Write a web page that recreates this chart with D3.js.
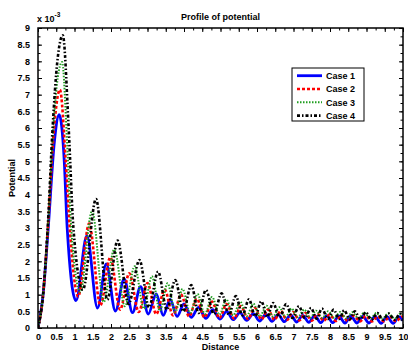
<!DOCTYPE html>
<html>
<head>
<meta charset="utf-8">
<script src="https://cdn.jsdelivr.net/npm/d3@7/dist/d3.min.js"></script>
<style>
  html, body { margin: 0; padding: 0; background: #fff; }
  svg { display: block; }
  text { font-family: "Liberation Sans", Arial, sans-serif; font-weight: bold; fill: #000; }
</style>
</head>
<body>
<svg id="chart" width="408" height="352"></svg>
<script>
// Potential (x 1e-3) against distance, four cases
const seriesNames = ["Case 1", "Case 2", "Case 3", "Case 4"];

const case1 = [[0,0],[0.14,1.0],[0.28,3.0],[0.45,5.6],[0.58,6.4],[0.72,5.0],[0.8,3.0],[1.04,0.82],[1.34,2.77],[1.63,0.6],[1.87,1.92],[2.12,0.51],[2.36,1.47],[2.59,0.46],[2.81,1.24],[3.02,0.42],[3.24,1.02],[3.43,0.38],[3.62,0.86],[3.81,0.35],[4.0,0.72],[4.2,0.32],[4.4,0.62],[4.6,0.29],[4.79,0.55],[4.98,0.27],[5.17,0.5],[5.35,0.25],[5.53,0.46],[5.72,0.23],[5.9,0.43],[6.07,0.21],[6.24,0.41],[6.41,0.2],[6.58,0.4],[6.75,0.19],[6.92,0.39],[7.09,0.18],[7.25,0.38],[7.42,0.17],[7.58,0.37],[7.75,0.16],[7.91,0.37],[8.08,0.16],[8.24,0.36],[8.41,0.15],[8.57,0.36],[8.74,0.15],[8.9,0.35],[9.07,0.15],[9.23,0.35],[9.4,0.14],[9.56,0.34],[9.73,0.14],[9.89,0.34],[10,0.22]];

const case2 = [[0,0],[0.14,1.0],[0.27,3.0],[0.44,6.0],[0.6,7.15],[0.76,5.0],[0.87,3.0],[1.1,0.95],[1.4,3.13],[1.71,0.68],[1.98,2.12],[2.25,0.55],[2.5,1.64],[2.76,0.48],[3.0,1.35],[3.24,0.42],[3.47,1.15],[3.7,0.38],[3.92,1.0],[4.14,0.35],[4.35,0.88],[4.56,0.32],[4.77,0.79],[4.97,0.3],[5.17,0.72],[5.37,0.28],[5.56,0.66],[5.75,0.27],[5.94,0.6],[6.12,0.26],[6.3,0.55],[6.48,0.25],[6.65,0.51],[6.82,0.24],[6.99,0.48],[7.16,0.23],[7.33,0.45],[7.5,0.22],[7.66,0.42],[7.83,0.22],[7.99,0.4],[8.16,0.21],[8.32,0.38],[8.49,0.21],[8.65,0.37],[8.82,0.2],[8.98,0.36],[9.15,0.2],[9.31,0.35],[9.48,0.2],[9.64,0.34],[9.81,0.2],[9.97,0.34],[10,0.33]];

const case3 = [[0,0],[0.14,1.0],[0.27,3.0],[0.42,6.0],[0.54,7.5],[0.66,7.98],[0.8,5.5],[0.91,3.0],[1.16,1.08],[1.48,3.52],[1.8,0.78],[2.09,2.36],[2.38,0.65],[2.65,1.85],[2.9,0.58],[3.12,1.55],[3.34,0.52],[3.55,1.34],[3.76,0.48],[3.96,1.17],[4.17,0.45],[4.37,1.02],[4.57,0.42],[4.77,0.93],[4.97,0.4],[5.16,0.86],[5.35,0.38],[5.54,0.79],[5.72,0.36],[5.9,0.73],[6.08,0.35],[6.26,0.67],[6.44,0.34],[6.61,0.62],[6.78,0.33],[6.95,0.58],[7.12,0.32],[7.29,0.55],[7.46,0.31],[7.62,0.52],[7.79,0.3],[7.95,0.5],[8.12,0.3],[8.28,0.48],[8.45,0.29],[8.61,0.47],[8.78,0.29],[8.94,0.46],[9.11,0.28],[9.27,0.45],[9.44,0.28],[9.6,0.44],[9.77,0.28],[9.93,0.43],[10,0.4]];

const case4 = [[0,0],[0.14,1.0],[0.27,3.1],[0.4,6.0],[0.53,8.0],[0.68,8.78],[0.84,6.0],[0.97,3.0],[1.23,1.15],[1.59,3.87],[1.9,0.85],[2.18,2.62],[2.48,0.72],[2.78,2.04],[3.04,0.62],[3.29,1.69],[3.53,0.55],[3.76,1.44],[3.98,0.5],[4.2,1.29],[4.4,0.45],[4.6,1.14],[4.82,0.42],[5.03,1.04],[5.23,0.4],[5.42,0.96],[5.6,0.38],[5.78,0.86],[5.95,0.35],[6.12,0.8],[6.28,0.33],[6.44,0.75],[6.62,0.32],[6.8,0.72],[6.97,0.3],[7.15,0.65],[7.31,0.3],[7.48,0.6],[7.63,0.28],[7.78,0.58],[7.94,0.27],[8.1,0.55],[8.25,0.27],[8.39,0.53],[8.54,0.26],[8.68,0.5],[8.83,0.26],[8.98,0.47],[9.14,0.25],[9.3,0.45],[9.45,0.25],[9.61,0.43],[9.77,0.25],[9.93,0.42],[10,0.38]];

const xTicks = [0,0.5,1,1.5,2,2.5,3,3.5,4,4.5,5,5.5,6,6.5,7,7.5,8,8.5,9,9.5,10];
const yTicks = [0,0.5,1,1.5,2,2.5,3,3.5,4,4.5,5,5.5,6,6.5,7,7.5,8,8.5,9];

const styles = [
  { color: "#0000ff", width: 2.8, dash: null },
  { color: "#ff0000", width: 2.6, dash: "3,2" },
  { color: "#1f9e1f", width: 2.0, dash: "1.5,1.5" },
  { color: "#000000", width: 2.6, dash: "3,2,1.5,2" }
];

const svg = d3.select("#chart");
const plotLeft = 38, plotRight = 403, plotTop = 28, plotBottom = 328;

const x = d3.scaleLinear().domain([0, 10]).range([plotLeft, plotRight]);
const y = d3.scaleLinear().domain([0, 9]).range([plotBottom, plotTop]);

svg.append("defs").append("clipPath").attr("id", "plotClip")
  .append("rect").attr("x", plotLeft).attr("y", plotTop)
  .attr("width", plotRight - plotLeft).attr("height", plotBottom - plotTop);

const line = d3.line()
  .x(d => x(d[0])).y(d => y(d[1]))
  .curve(d3.curveMonotoneX);

const plot = svg.append("g").attr("clip-path", "url(#plotClip)");
[case1, case2, case3, case4].forEach((data, i) => {
  const s = styles[i];
  plot.append("path")
    .datum(data)
    .attr("d", line)
    .attr("fill", "none")
    .attr("stroke", s.color)
    .attr("stroke-width", s.width)
    .attr("stroke-dasharray", s.dash)
    .attr("stroke-linejoin", "round");
});

// Axes: labelled ticks every 0.5, minor ticks every 0.25, all pointing inward
const minorX = d3.range(0, 10.001, 0.25);
const minorY = d3.range(0, 9.001, 0.25);

function styleAxis(g) {
  g.select(".domain").remove();
  g.selectAll(".tick line").attr("stroke", "#000").attr("stroke-width", 1);
  g.selectAll(".tick text").style("font-size", "9px").style("font-weight", "bold")
    .style("font-family", "'Liberation Sans', Arial, sans-serif");
}

svg.append("g").attr("transform", `translate(0,${plotBottom})`)
  .call(d3.axisBottom(x).tickValues(minorX).tickSize(-2.5).tickFormat(""))
  .call(styleAxis);
svg.append("g").attr("transform", `translate(0,${plotBottom})`)
  .call(d3.axisBottom(x).tickValues(xTicks).tickSize(-4).tickPadding(5.5).tickFormat(d3.format("~g")))
  .call(styleAxis);
svg.append("g").attr("transform", `translate(0,${plotTop})`)
  .call(d3.axisTop(x).tickValues(minorX).tickSize(-2.5).tickFormat(""))
  .call(styleAxis);
svg.append("g").attr("transform", `translate(0,${plotTop})`)
  .call(d3.axisTop(x).tickValues(xTicks).tickSize(-4).tickFormat(""))
  .call(styleAxis);

svg.append("g").attr("transform", `translate(${plotLeft},0)`)
  .call(d3.axisLeft(y).tickValues(minorY).tickSize(-2.5).tickFormat(""))
  .call(styleAxis);
svg.append("g").attr("transform", `translate(${plotLeft},0)`)
  .call(d3.axisLeft(y).tickValues(yTicks).tickSize(-4).tickPadding(8).tickFormat(d3.format("~g")))
  .call(styleAxis);
svg.append("g").attr("transform", `translate(${plotRight},0)`)
  .call(d3.axisRight(y).tickValues(minorY).tickSize(-2.5).tickFormat(""))
  .call(styleAxis);
svg.append("g").attr("transform", `translate(${plotRight},0)`)
  .call(d3.axisRight(y).tickValues(yTicks).tickSize(-4).tickFormat(""))
  .call(styleAxis);

// Frame
svg.append("rect")
  .attr("x", plotLeft).attr("y", plotTop)
  .attr("width", plotRight - plotLeft).attr("height", plotBottom - plotTop)
  .attr("fill", "none").attr("stroke", "#000").attr("stroke-width", 1.5);

// Titles
svg.append("text").attr("x", (plotLeft + plotRight) / 2).attr("y", 20)
  .attr("text-anchor", "middle").style("font-size", "9px").text("Profile of potential");
svg.append("text").attr("x", (plotLeft + plotRight) / 2).attr("y", 350)
  .attr("text-anchor", "middle").style("font-size", "9px").text("Distance");
svg.append("text")
  .attr("transform", `translate(15,${(plotTop + plotBottom) / 2}) rotate(-90)`)
  .attr("text-anchor", "middle").style("font-size", "9px").text("Potential");

const mult = svg.append("text").attr("x", 37).attr("y", 22).style("font-size", "9px");
mult.append("tspan").text("x 10");
mult.append("tspan").attr("dy", -5).style("font-size", "6.5px").text("-3");

// Legend
const lg = svg.append("g");
lg.append("rect").attr("x", 292).attr("y", 68).attr("width", 72).attr("height", 53)
  .attr("fill", "#fff").attr("stroke", "#000").attr("stroke-width", 1);
seriesNames.forEach((name, i) => {
  const cy = 75.7 + i * 13.3;
  const s = styles[i];
  lg.append("line").attr("x1", 297).attr("x2", 322).attr("y1", cy).attr("y2", cy)
    .attr("stroke", s.color).attr("stroke-width", s.width)
    .attr("stroke-dasharray", s.dash);
  lg.append("text").attr("x", 326).attr("y", cy + 3.2).style("font-size", "9px").text(name);
});
</script>
</body>
</html>
